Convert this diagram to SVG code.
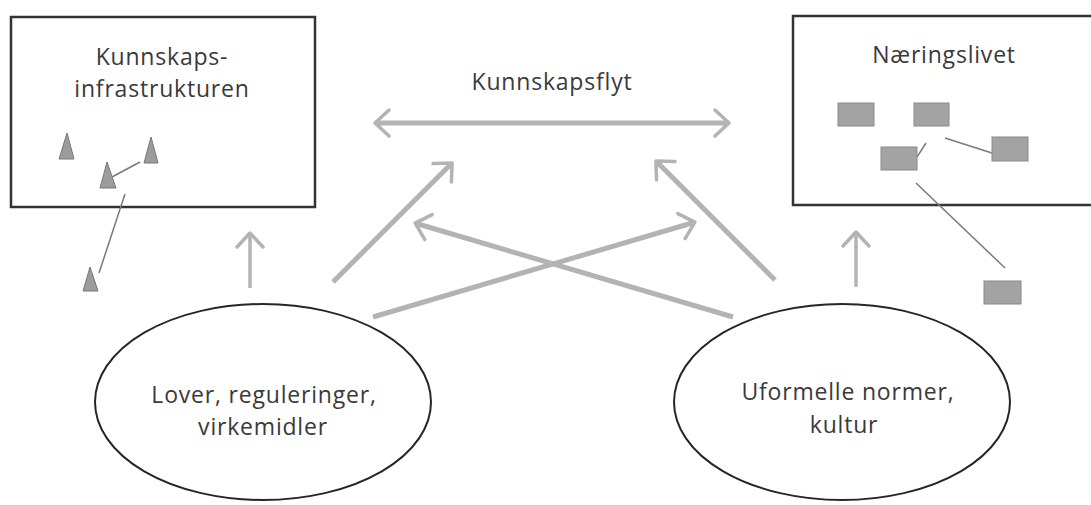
<svg xmlns="http://www.w3.org/2000/svg" width="1091" height="505" viewBox="0 0 1091 505">
  <style>
    .bg { fill: #ffffff; }
    .frame { fill: none; stroke: #333333; stroke-width: 2.5; }
    .oval { fill: none; stroke: #262626; stroke-width: 2; }
    .label { font-family: "Open Sans", "DejaVu Sans", sans-serif; font-size: 23px; letter-spacing: 0.8px; fill: #3a3a3a; text-anchor: middle; }
    .flow { fill: none; stroke: #b3b3b3; stroke-width: 5; stroke-linecap: butt; }
    .flow.thin { stroke-width: 3.5; }
    .cone { fill: #9c9c9c; stroke: #777777; stroke-width: 1; }
    .firm { fill: #a3a3a3; stroke: #8a8a8a; stroke-width: 1; }
    .tie { fill: none; stroke: #7a7a7a; stroke-width: 1.5; }
  </style>
  <defs>
    <marker id="chevron" markerUnits="userSpaceOnUse" markerWidth="40" markerHeight="40" viewBox="-20 -20 40 40" refX="0" refY="0" orient="auto-start-reverse">
      <path d="M-11,-13 L3,0 L-11,13" fill="none" stroke="#b3b3b3" stroke-width="3.5" stroke-linejoin="round" stroke-linecap="round"/>
    </marker>
  </defs>

  <rect class="bg" x="0" y="0" width="1091" height="505"/>

  <!-- knowledge infrastructure -->
  <g id="kunnskapsinfrastrukturen">
    <rect class="frame" x="11" y="17" width="304" height="190"/>
    <text class="label" x="162" y="65">Kunnskaps-</text>
    <text class="label" x="162" y="97">infrastrukturen</text>
    <g id="institusjoner">
      <line class="tie" x1="112" y1="177" x2="140" y2="162"/>
      <line class="tie" x1="125" y1="194" x2="99" y2="273"/>
      <polygon class="cone" points="67,133 59,159 74,159"/>
      <polygon class="cone" points="151,137 144,163 158,163"/>
      <polygon class="cone" points="107,162 100,188 116,188"/>
      <polygon class="cone" points="90,267 83,291 98,291"/>
    </g>
  </g>

  <!-- business sector -->
  <g id="naeringslivet">
    <rect class="frame" x="793" y="16" width="310" height="189"/>
    <text class="label" x="944" y="63">Næringslivet</text>
    <g id="bedrifter">
      <line class="tie" x1="926" y1="143" x2="917" y2="157"/>
      <line class="tie" x1="945" y1="138" x2="992" y2="153"/>
      <line class="tie" x1="916" y1="183" x2="1005" y2="268"/>
      <rect class="firm" x="838" y="103" width="36" height="23"/>
      <rect class="firm" x="914" y="103" width="35" height="23"/>
      <rect class="firm" x="881" y="147" width="36" height="23"/>
      <rect class="firm" x="992" y="137" width="36" height="24"/>
      <rect class="firm" x="984" y="281" width="37" height="23"/>
    </g>
  </g>

  <!-- formal institutions -->
  <g id="lover">
    <ellipse class="oval" cx="263" cy="402" rx="168" ry="98"/>
    <text class="label" x="264" y="403">Lover, reguleringer,</text>
    <text class="label" x="263" y="435">virkemidler</text>
  </g>

  <!-- informal institutions -->
  <g id="normer">
    <ellipse class="oval" cx="842" cy="402" rx="168" ry="98"/>
    <text class="label" x="848" y="400">Uformelle normer,</text>
    <text class="label" x="844" y="433">kultur</text>
  </g>

  <g id="kunnskapsflyt">
    <text class="label" x="552" y="90">Kunnskapsflyt</text>
  </g>

  <!-- arrows -->
  <g id="connectors">
    <line class="flow" x1="378" y1="123" x2="726" y2="123" marker-start="url(#chevron)" marker-end="url(#chevron)"/>
    <line class="flow thin" x1="250" y1="288" x2="250" y2="236" marker-end="url(#chevron)"/>
    <line class="flow thin" x1="856" y1="287" x2="856" y2="235" marker-end="url(#chevron)"/>
    <line class="flow" x1="333" y1="282" x2="450" y2="165" marker-end="url(#chevron)"/>
    <line class="flow" x1="775" y1="280" x2="658" y2="163" marker-end="url(#chevron)"/>
    <line class="flow" x1="373" y1="317" x2="692" y2="223" marker-end="url(#chevron)"/>
    <line class="flow" x1="733" y1="317" x2="418" y2="224" marker-end="url(#chevron)"/>
  </g>
</svg>
